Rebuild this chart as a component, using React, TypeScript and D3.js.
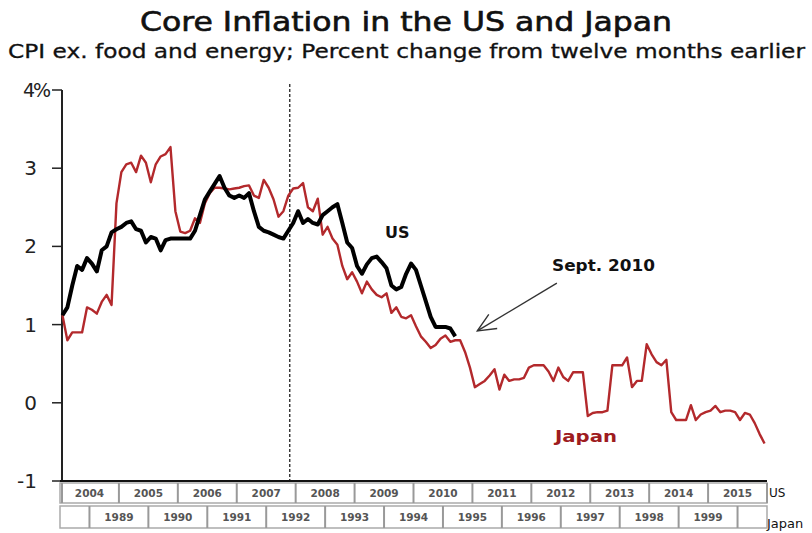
import React from "react";
import * as d3 from "d3";

// ---------- data ----------
// US core CPI (ex food & energy), % y/y, monthly Jan 2004 – Sep 2010
const usCore: number[] = [
  1.12, 1.22, 1.5, 1.75, 1.7, 1.85, 1.78, 1.68, 1.95, 2.0, 2.18, 2.22,
  2.25, 2.3, 2.32, 2.22, 2.2, 2.05, 2.12, 2.1, 1.95, 2.08, 2.1, 2.1,
  2.1, 2.1, 2.1, 2.2, 2.4, 2.6, 2.7, 2.8, 2.9, 2.75, 2.65, 2.62,
  2.65, 2.62, 2.68, 2.45, 2.25, 2.2, 2.18, 2.15, 2.12, 2.1, 2.2, 2.3,
  2.45, 2.3, 2.35, 2.3, 2.28, 2.4, 2.45, 2.5, 2.54, 2.3, 2.05, 1.98,
  1.75, 1.65, 1.77, 1.85, 1.87, 1.8, 1.72, 1.5, 1.45, 1.48, 1.65, 1.78,
  1.7, 1.5, 1.3, 1.1, 0.97, 0.97, 0.97, 0.95, 0.85,
];

// Japan core CPI, % y/y, monthly Jul 1988 – Jun 2000 (shifted 15.5 years)
const japanCore: number[] = [
  1.12, 0.8, 0.9, 0.9, 0.9, 1.22, 1.19, 1.14, 1.29, 1.38, 1.25, 2.55,
  2.95, 3.05, 3.07, 2.95, 3.16, 3.07, 2.82, 3.05, 3.15, 3.18, 3.27, 2.45,
  2.19, 2.17, 2.2, 2.36, 2.3, 2.55, 2.68, 2.75, 2.75, 2.74, 2.73, 2.74,
  2.75, 2.77, 2.78, 2.65, 2.62, 2.85, 2.75, 2.6, 2.38, 2.45, 2.65, 2.74,
  2.75, 2.81, 2.5, 2.45, 2.61, 2.15, 2.25, 2.1, 2.02, 1.75, 1.58, 1.67,
  1.55, 1.4, 1.55, 1.45, 1.38, 1.35, 1.4, 1.15, 1.22, 1.1, 1.08, 1.12,
  0.98, 0.85, 0.78, 0.7, 0.74, 0.82, 0.86, 0.78, 0.8, 0.8, 0.65, 0.45,
  0.2, 0.24, 0.28, 0.35, 0.43, 0.17, 0.36, 0.28, 0.3, 0.3, 0.32, 0.45,
  0.48, 0.48, 0.48, 0.4, 0.28, 0.45, 0.33, 0.28, 0.39, 0.39, 0.39, -0.17,
  -0.13, -0.12, -0.12, -0.1, 0.48, 0.48, 0.48, 0.58, 0.2, 0.28, 0.28, 0.75,
  0.62, 0.52, 0.48, 0.55, -0.12, -0.22, -0.22, -0.22, -0.03, -0.22, -0.15, -0.12,
  -0.1, -0.04, -0.12, -0.1, -0.1, -0.12, -0.22, -0.13, -0.15, -0.26, -0.4, -0.52,
];

const usYears: string[] = ["2004", "2005", "2006", "2007", "2008", "2009", "2010", "2011", "2012", "2013", "2014", "2015"];
const japanYears: string[] = ["", "1989", "1990", "1991", "1992", "1993", "1994", "1995", "1996", "1997", "1998", "1999", ""];
// Japan cells in months on the shared axis
const japanCellStarts: number[] = [0, 6, 18, 30, 42, 54, 66, 78, 90, 102, 114, 126, 138];
const japanCellEnds: number[] = [6, 18, 30, 42, 54, 66, 78, 90, 102, 114, 126, 138, 144];
const yTicks: number[] = [-1, 0, 1, 2, 3, 4];
const yTickLabels: string[] = ["-1", "0", "1", "2", "3", "4%"];

const dashedMonth = 46.8;
const arrowTip = { m: 85, v: 0.92 };
const arrowTail = { m: 101.2, v: 1.53 };

const TITLE = "Core Inflation in the US and Japan";
const SUBTITLE = "CPI ex. food and energy; Percent change from twelve months earlier";

export default function App() {
  const W = 812, H = 533;
  const x = d3.scaleLinear().domain([0, 144]).range([60, 767]);
  const y = d3.scaleLinear().domain([-1, 4]).range([481, 90]);

  const line = d3
    .line<number>()
    .x((_, i) => x(i + 0.5))
    .y((d) => y(d));

  const font = "'DejaVu Sans', Verdana, sans-serif";

  const row1Top = 483, row1H = 20;
  const row2Top = 506, row2H = 22;

  // arrow
  const tx = x(arrowTip.m), ty = y(arrowTip.v);
  const sx = x(arrowTail.m), sy = y(arrowTail.v);
  const ang = Math.atan2(sy - ty, sx - tx);
  const ah = 20, spread = 0.42;
  const a1 = [tx + ah * Math.cos(ang - spread), ty + ah * Math.sin(ang - spread)];
  const a2 = [tx + ah * Math.cos(ang + spread), ty + ah * Math.sin(ang + spread)];

  return (
    <svg
      width={W}
      height={H}
      viewBox={`0 0 ${W} ${H}`}
      style={{ position: "absolute", left: 0, top: 0, background: "#fff" }}
      fontFamily={font}
    >
      <rect width={W} height={H} fill="#fff" />
      {/* titles */}
      <text x={406} y={31} textAnchor="middle" fontSize={26} fill="#111" stroke="#111" strokeWidth={0.6}
        textLength={532} lengthAdjust="spacingAndGlyphs">
        {TITLE}
      </text>
      <text x={8} y={58} fontSize={19} fill="#111" stroke="#111" strokeWidth={0.3}
        textLength={797} lengthAdjust="spacingAndGlyphs">
        {SUBTITLE}
      </text>

      {/* y axis */}
      <line x1={x(0) + 2} x2={x(0) + 2} y1={y(4)} y2={y(-1)} stroke="#222" strokeWidth={2} />
      {yTicks.map((t, i) => (
        <g key={t}>
          <line x1={52} x2={x(0) + 2} y1={y(t)} y2={y(t)} stroke="#222" strokeWidth={1.5} />
          {i === yTicks.length - 1 ? (
            <text x={23} y={y(t) + 7} fontSize={19} fill="#222" letterSpacing={-2}>
              {yTickLabels[i]}
            </text>
          ) : (
            <text x={37} y={y(t) + 7} fontSize={20} fill="#222" textAnchor="end">
              {yTickLabels[i]}
            </text>
          )}
        </g>
      ))}

      {/* dashed vertical line */}
      <line x1={x(dashedMonth)} x2={x(dashedMonth)} y1={84} y2={y(-1)} stroke="#111" strokeWidth={1.2} strokeDasharray="3,2" />

      {/* series */}
      <path d={line(japanCore) || ""} fill="none" stroke="#b3292c" strokeWidth={2.4} strokeLinejoin="round" />
      <path d={line(usCore) || ""} fill="none" stroke="#000" strokeWidth={4} strokeLinejoin="round" />

      {/* bottom axis */}
      <line x1={x(0)} x2={x(144)} y1={y(-1)} y2={y(-1)} stroke="#111" strokeWidth={2} />

      {/* data table row 1 (US) */}
      <rect x={x(0)} y={row1Top} width={x(144) - x(0)} height={row1H} fill="#fff" stroke="#aaa" strokeWidth={1.5} />
      {usYears.map((yr, i) => (
        <g key={yr}>
          {i > 0 && (
            <line x1={x(i * 12)} x2={x(i * 12)} y1={row1Top} y2={row1Top + row1H} stroke="#999" strokeWidth={2} />
          )}
          <text x={x(i * 12 + 6)} y={row1Top + 14} fontSize={10.5} fontWeight="bold" fill="#555" textAnchor="middle">
            {yr}
          </text>
        </g>
      ))}
      <line x1={x(0) + 2} x2={x(0) + 2} y1={row1Top} y2={row1Top + row1H} stroke="#999" strokeWidth={2} />
      <line x1={x(144)} x2={x(144)} y1={row1Top} y2={row1Top + row1H} stroke="#999" strokeWidth={2} />

      {/* data table row 2 (Japan) */}
      <rect x={x(0)} y={row2Top} width={x(144) - x(0)} height={row2H} fill="#fff" stroke="#aaa" strokeWidth={1.5} />
      {japanYears.map((yr, i) => (
        <g key={i}>
          {i > 0 && (
            <line x1={x(japanCellStarts[i])} x2={x(japanCellStarts[i])} y1={row2Top} y2={row2Top + row2H} stroke="#999" strokeWidth={2} />
          )}
          <text
            x={x((japanCellStarts[i] + japanCellEnds[i]) / 2)}
            y={row2Top + 15}
            fontSize={10.5}
            fontWeight="bold"
            fill="#555"
            textAnchor="middle"
          >
            {yr}
          </text>
        </g>
      ))}
      <text x={769} y={497} fontSize={12} fill="#111">US</text>
      <text x={767} y={528} fontSize={13} fill="#111">Japan</text>

      {/* annotations */}
      <text x={385} y={238} fontSize={16} fontWeight="bold" fill="#111">US</text>
      <text x={552} y={271} fontSize={15} fontWeight="bold" fill="#111" textLength={103} lengthAdjust="spacingAndGlyphs">
        Sept. 2010
      </text>
      <text x={555} y={442} fontSize={16} fontWeight="bold" fill="#9e1c1f" textLength={62} lengthAdjust="spacingAndGlyphs">
        Japan
      </text>
      <line x1={sx} y1={sy} x2={tx} y2={ty} stroke="#333" strokeWidth={1.4} />
      <polyline
        points={`${a1[0]},${a1[1]} ${tx},${ty} ${a2[0]},${a2[1]}`}
        fill="none"
        stroke="#333"
        strokeWidth={1.4}
      />
    </svg>
  );
}
